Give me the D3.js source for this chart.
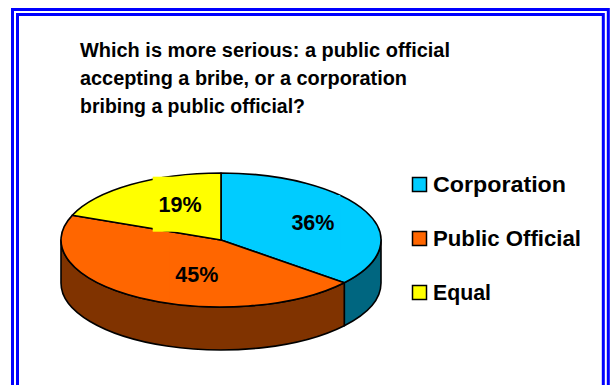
<!DOCTYPE html>
<html>
<head>
<meta charset="utf-8">
<script src="https://cdn.jsdelivr.net/npm/d3@7"></script>
<style>
  html, body { margin: 0; padding: 0; background: #fff; }
  svg { display: block; }
  text { font-family: "Liberation Sans", Arial, sans-serif; font-weight: bold; fill: #000; }
</style>
</head>
<body>
<svg id="chart" width="612" height="385"></svg>
<script>
// Survey answers
const categories = ["Corporation", "Public Official", "Equal"];
const shares = [36, 45, 19];
const titleLines = [
  "Which is more serious: a public official",
  "accepting a bribe, or a corporation",
  "bribing a public official?"
];

// Styling
const topColors = ["#00CCFF", "#FF6600", "#FFFF00"];
const sideColors = ["#006680", "#803300", "#808000"];

const svg = d3.select("#chart");

// Double blue frame
svg.append("rect").attr("x", 12.5).attr("y", 9.5).attr("width", 608.3 - 12.5).attr("height", 420)
  .attr("fill", "none").attr("stroke", "#0000FF").attr("stroke-width", 3);
svg.append("rect").attr("x", 17.5).attr("y", 14.5).attr("width", 603.3 - 17.5).attr("height", 420)
  .attr("fill", "none").attr("stroke", "#0000FF").attr("stroke-width", 3);

// Title
const titleWidths = [370, 327, 225];
svg.append("g").selectAll("text").data(titleLines).join("text")
  .attr("x", 80)
  .attr("y", (d, i) => 56.7 + i * 28.3)
  .attr("font-size", 19.5)
  .attr("textLength", (d, i) => titleWidths[i])
  .attr("lengthAdjust", "spacingAndGlyphs")
  .text(d => d);

// 3D pie geometry
const cx = 221, cy = 240, rx = 160, ry = 67, depth = 43;
const pt = (a, dy = 0) => [cx + rx * Math.sin(a), cy - ry * Math.cos(a) + dy];
const arcs = d3.pie().sort(null).startAngle(0).endAngle(2 * Math.PI)(shares);

function topPath(d) {
  const p0 = pt(d.startAngle), p1 = pt(d.endAngle);
  const large = d.endAngle - d.startAngle > Math.PI ? 1 : 0;
  return `M${cx},${cy}L${p0[0]},${p0[1]}A${rx},${ry} 0 ${large} 1 ${p1[0]},${p1[1]}Z`;
}
function sidePath(d) {
  const a0 = Math.max(d.startAngle, Math.PI / 2);
  const a1 = Math.min(d.endAngle, 3 * Math.PI / 2);
  if (a1 <= a0) return null;
  const p0 = pt(a0), p1 = pt(a1), q0 = pt(a0, depth), q1 = pt(a1, depth);
  const large = a1 - a0 > Math.PI ? 1 : 0;
  return `M${p0[0]},${p0[1]}A${rx},${ry} 0 ${large} 1 ${p1[0]},${p1[1]}` +
         `L${q1[0]},${q1[1]}A${rx},${ry} 0 ${large} 0 ${q0[0]},${q0[1]}Z`;
}

const pie = svg.append("g");
pie.selectAll("path.side").data(arcs.filter(d => sidePath(d))).join("path")
  .attr("class", "side")
  .attr("d", sidePath)
  .attr("fill", d => sideColors[d.index])
  .attr("stroke", "#000").attr("stroke-width", 1.6).attr("stroke-linejoin", "round");
pie.selectAll("path.top").data(arcs).join("path")
  .attr("class", "top")
  .attr("d", topPath)
  .attr("fill", d => topColors[d.index])
  .attr("stroke", "#000").attr("stroke-width", 1.6).attr("stroke-linejoin", "round");

// Percentage labels with slice-coloured boxes
const labelPull = [[0.635, 0.613], [0.298, 0.593], [0.456, 0.646]];
const labels = pie.selectAll("g.lbl").data(arcs).join("g").attr("class", "lbl")
  .attr("transform", d => {
    const m = (d.startAngle + d.endAngle) / 2;
    const [fx, fy] = labelPull[d.index];
    return `translate(${cx + rx * fx * Math.sin(m)},${cy - ry * fy * Math.cos(m)})`;
  });
labels.append("rect")
  .attr("x", -27.3).attr("y", -27.5).attr("width", 54.6).attr("height", 55)
  .attr("fill", d => topColors[d.index]);
labels.append("text")
  .attr("text-anchor", "middle")
  .attr("y", 7.5)
  .attr("font-size", 21.5)
  .text(d => `${d.data}%`);

// Legend
const legendY = d3.scalePoint().domain(categories).range([184.5, 292.5]);
const legendWidths = [133, 148, 58];
const legend = svg.append("g").selectAll("g").data(categories).join("g")
  .attr("transform", d => `translate(0,${legendY(d)})`);
legend.append("rect")
  .attr("x", 412.5).attr("y", -7).attr("width", 14).attr("height", 14)
  .attr("fill", (d, i) => topColors[i]).attr("stroke", "#000").attr("stroke-width", 1.5);
legend.append("text")
  .attr("x", 433).attr("y", 7)
  .attr("font-size", 22)
  .attr("textLength", (d, i) => legendWidths[i])
  .attr("lengthAdjust", "spacingAndGlyphs")
  .text(d => d);
</script>
</body>
</html>
